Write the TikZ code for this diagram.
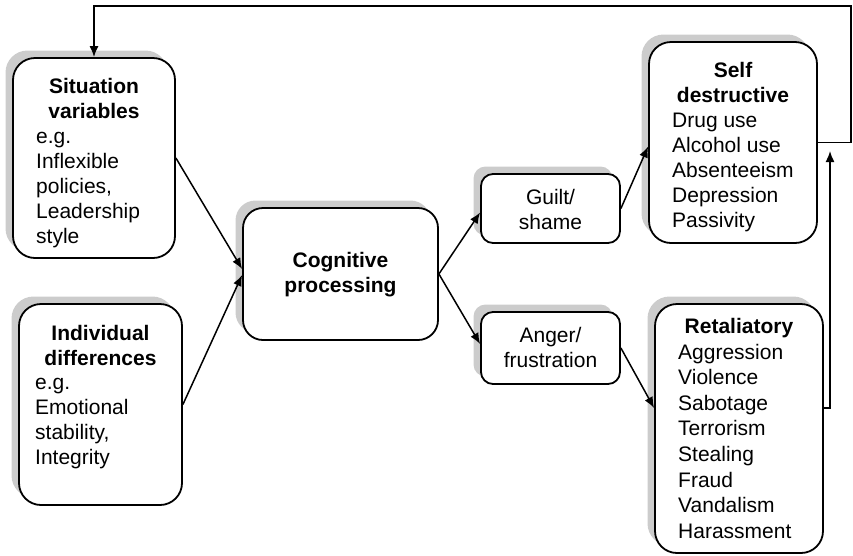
\documentclass[tikz,border=0pt]{standalone}
\usepackage{fontspec}
\setmainfont{Liberation Sans}
\usetikzlibrary{arrows.meta,calc,shadows}

% stacked lines of text; the node's base is the first line's baseline
\newcommand\leftlines[2]{\vtop{\baselineskip=#1pt\lineskiplimit=-100pt\halign{##\hfil\cr#2\crcr}}}
\newcommand\midlines[2]{\vtop{\baselineskip=#1pt\lineskiplimit=-100pt\halign{\hfil##\hfil\cr#2\crcr}}}

\begin{document}
\begin{tikzpicture}[x=1pt,y=-1pt,
  box/.style={draw=black,line width=1.8pt,fill=white,rounded corners=22pt,
    drop shadow={shadow xshift=-7.5pt,shadow yshift=7.5pt,fill=gray!40,opacity=1}},
  smallbox/.style={box,rounded corners=12pt},
  txt/.style={inner sep=0pt,font=\fontsize{21}{25}\selectfont},
  title/.style={txt,font=\fontsize{21}{25}\selectfont\bfseries,anchor=base},
  body/.style={txt,anchor=base west},
  arr/.style={line width=1.5pt,-{Latex[length=11pt,width=9pt]}}
]
\useasboundingbox (0,0) rectangle (853,555);

% boxes
\node[box,minimum width=162pt,minimum height=200pt] (sit) at (94,158) {};
\node[box,minimum width=163pt,minimum height=201pt] (ind) at (100.5,404.5) {};
\node[box,rounded corners=20pt,minimum width=195pt,minimum height=132pt] (cog) at (340.5,274) {};
\node[smallbox,minimum width=139pt,minimum height=69pt] (guilt) at (550.5,208.5) {};
\node[smallbox,minimum width=139pt,minimum height=72pt] (anger) at (550.5,348) {};
\node[box,minimum width=168pt,minimum height=201pt] (self) at (733,142.5) {};
\node[box,minimum width=168pt,minimum height=249pt] (ret) at (739,428.5) {};

% texts
\node[title] (sitT) at (94,93) {\midlines{25}{Situation\cr variables}};
\node[body] (sitB) at (36,143) {\leftlines{25}{e.g.\cr Inflexible\cr policies,\cr Leadership\cr style}};
\node[title] (indT) at (100.5,340) {\midlines{25}{Individual\cr differences}};
\node[body] (indB) at (35,389) {\leftlines{25}{e.g.\cr Emotional\cr stability,\cr Integrity}};
\node[title] (cogT) at (340.5,267) {\midlines{25}{Cognitive\cr processing}};
\node[txt,anchor=base] (guiltT) at (550.5,204) {\midlines{25}{Guilt/\cr shame}};
\node[txt,anchor=base] (angerT) at (550.5,342) {\midlines{25}{Anger/\cr frustration}};
\node[title] (selfT) at (733,77) {\midlines{25}{Self\cr destructive}};
\node[body] (selfB) at (672,127) {\leftlines{25}{Drug use\cr Alcohol use\cr Absenteeism\cr Depression\cr Passivity}};
\node[title] (retT) at (739,333) {Retaliatory};
\node[body] (retB) at (678,359) {\leftlines{25.6}{Aggression\cr Violence\cr Sabotage\cr Terrorism\cr Stealing\cr Fraud\cr Vandalism\cr Harassment}};

% free ends of the feedback lines
\coordinate (loop) at (851,6);
\coordinate (retup) at (830,151);

% connectors
\draw[arr] (sit.east) -- ($(cog.west)+(0,-5)$);
\draw[arr] (ind.east) -- ($(cog.west)+(0,1)$);
\draw[arr] (cog.east) -- ($(guilt.west)+(0,4)$);
\draw[arr] (cog.east) -- ($(anger.west)+(0,-4)$);
\draw[arr] (guilt.east) -- ($(self.west)+(0,4)$);
\draw[arr] (anger.east) -- ($(ret.west)+(0,-20.5)$);
\draw[arr] (self.east) -| (loop) -| (sit.north);
\draw[arr] ($(ret.east)+(0,-20.5)$) -| (retup);
\end{tikzpicture}
\end{document}
